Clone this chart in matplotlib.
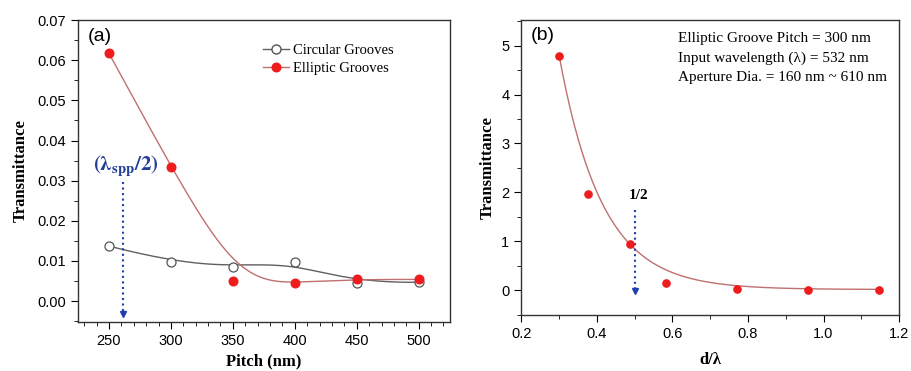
import numpy as np
import matplotlib
matplotlib.use("Agg")
import matplotlib.pyplot as plt
from matplotlib.ticker import MultipleLocator, FormatStrFormatter

plt.rcParams['font.family'] = ['Liberation Sans', 'DejaVu Sans']
plt.rcParams['mathtext.fontset'] = 'stix'

# panel (a) data
pitch = [250, 300, 350, 400, 450, 500]
circular = [0.0137, 0.0098, 0.0085, 0.0098, 0.0045, 0.0047]
elliptic = [0.0617, 0.0335, 0.0051, 0.0044, 0.0055, 0.0054]

# panel (b) data
d_lambda = [0.301, 0.376, 0.489, 0.583, 0.771, 0.959, 1.147]
trans_b = [4.78, 1.96, 0.95, 0.15, 0.04, 0.02, 0.0]
# exponential decay fit drawn in (b), parameters
fit_amp = 4.76
fit_tau = 0.114
fit_offset = 0.02

SERIF = ['Liberation Serif', 'DejaVu Serif']
RED = '#ee1c1c'
LINE_RED = '#c07070'
BLUE = '#1f3fb0'


def bspline(xs, ys, n=300):
    # clamped cubic B-spline, points used as control points (Origin style)
    P = np.column_stack([xs, ys]).astype(float)
    k = 3
    m = len(P)
    inner = np.linspace(0, 1, m - k + 1)
    knots = np.concatenate([[0] * k, inner, [1] * k])
    t = np.linspace(0, 1 - 1e-9, n)

    def basis(i, p, u):
        if p == 0:
            return ((knots[i] <= u) & (u < knots[i + 1])).astype(float)
        out = np.zeros_like(u)
        d1 = knots[i + p] - knots[i]
        d2 = knots[i + p + 1] - knots[i + 1]
        if d1 > 0:
            out += (u - knots[i]) / d1 * basis(i, p - 1, u)
        if d2 > 0:
            out += (knots[i + p + 1] - u) / d2 * basis(i + 1, p - 1, u)
        return out

    B = np.array([basis(i, k, t) for i in range(m)])
    curve = B.T @ P
    return curve[:, 0], curve[:, 1]


def style_axes(ax):
    ax.tick_params(which='both', direction='out', top=False, right=False, labelsize=10.5)
    ax.tick_params(which='major', length=5)
    ax.tick_params(which='minor', length=3)
    for s in ax.spines.values():
        s.set_linewidth(1.0)
        s.set_color('#333333')


fig = plt.figure(figsize=(9.11, 3.71), dpi=100)

# ---- panel (a)
ax1 = fig.add_axes([0.0856, 0.132, 0.408, 0.814])
cx, cy = bspline(pitch, circular)
ex, ey = bspline(pitch, elliptic)
ax1.plot(cx, cy, color='#606060', lw=1.0, zorder=2)
ax1.plot(ex, ey, color=LINE_RED, lw=1.0, zorder=2)
ax1.plot(pitch, circular, 'o', mfc='white', mec='#555555', ms=6.5, mew=0.9, zorder=3)
ax1.plot(pitch, elliptic, 'o', color=RED, ms=6.2, zorder=4)
ax1.plot([], [], '-o', color='#606060', mfc='white', mec='#555555', ms=6.5, lw=1.0,
         label='Circular Grooves')
ax1.plot([], [], '-o', color=LINE_RED, mfc=RED, mec=RED, ms=6.2, lw=1.0,
         label='Elliptic Grooves')
ax1.legend(loc='upper right', bbox_to_anchor=(0.885, 0.965), frameon=False,
           prop={'family': SERIF, 'size': 10.5}, handlelength=1.8,
           handletextpad=0.3, labelspacing=0.35)
ax1.plot([261, 261], [0.0297, -0.0025], ls=':', color=BLUE, lw=1.5)
ax1.plot([261], [-0.0032], marker='v', color=BLUE, ms=5)
ax1.text(264, 0.0335, r'$\mathbf{(\lambda_{spp}/2)}$', color='#233f96',
         fontsize=15, ha='center', va='center')
ax1.text(0.025, 0.975, '(a)', transform=ax1.transAxes, fontsize=14, va='top')
ax1.set_xlim(225, 525)
ax1.set_ylim(-0.0052, 0.07)
ax1.xaxis.set_major_locator(MultipleLocator(50))
ax1.xaxis.set_minor_locator(MultipleLocator(10))
ax1.yaxis.set_major_locator(MultipleLocator(0.01))
ax1.yaxis.set_minor_locator(MultipleLocator(0.005))
ax1.yaxis.set_major_formatter(FormatStrFormatter('%.2f'))
ax1.set_xlabel('Pitch (nm)', family=SERIF, fontweight='bold', fontsize=12, labelpad=4)
ax1.set_ylabel('Transmittance', family=SERIF, fontweight='bold', fontsize=12, labelpad=6)
style_axes(ax1)

# ---- panel (b)
ax2 = fig.add_axes([0.572, 0.151, 0.415, 0.795])
fx = np.linspace(d_lambda[0], d_lambda[-1], 300)
fy = fit_amp * np.exp(-(fx - d_lambda[0]) / fit_tau) + fit_offset
ax2.plot(fx, fy, color=LINE_RED, lw=1.0, zorder=2)
ax2.plot(d_lambda, trans_b, 'o', color=RED, ms=5.2, zorder=3)
ax2.plot([0.5, 0.5], [1.65, 0.05], ls=':', color=BLUE, lw=1.5)
ax2.plot([0.5], [-0.02], marker='v', color=BLUE, ms=5)
ax2.text(0.51, 1.93, '1/2', family=SERIF, fontweight='bold', fontsize=11,
         ha='center', va='center')
ax2.text(0.025, 0.975, '(b)', transform=ax2.transAxes, fontsize=14, va='top')
ax2.text(0.415, 0.96, 'Elliptic Groove Pitch = 300 nm\n'
         'Input wavelength (\u03bb) = 532 nm\n'
         'Aperture Dia. = 160 nm ~ 610 nm',
         transform=ax2.transAxes, family=SERIF, fontsize=11, va='top',
         ha='left', linespacing=1.6)
ax2.set_xlim(0.2, 1.2)
ax2.set_ylim(-0.5, 5.52)
ax2.xaxis.set_major_locator(MultipleLocator(0.2))
ax2.xaxis.set_minor_locator(MultipleLocator(0.1))
ax2.yaxis.set_major_locator(MultipleLocator(1))
ax2.yaxis.set_minor_locator(MultipleLocator(0.5))
ax2.xaxis.set_major_formatter(FormatStrFormatter('%.1f'))
ax2.set_xlabel('d/\u03bb', family=SERIF, fontweight='bold', fontsize=12, labelpad=8)
ax2.set_ylabel('Transmittance', family=SERIF, fontweight='bold', fontsize=12, labelpad=4)
style_axes(ax2)

fig.savefig('out.png', dpi=100)
